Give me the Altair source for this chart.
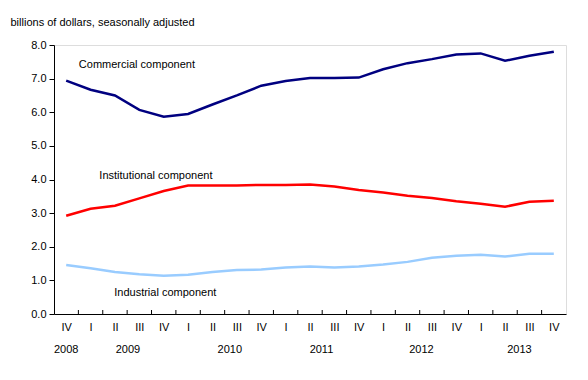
import json
import altair as alt
import pandas as pd

quarters = ["IV", "I", "II", "III", "IV", "I", "II", "III", "IV", "I", "II",
            "III", "IV", "I", "II", "III", "IV", "I", "II", "III", "IV"]
years = ["2008", "2009", "2010", "2011", "2012", "2013"]
year_pos = [0, 2.53, 6.71, 10.47, 14.57, 18.59]

commercial = [6.94, 6.67, 6.50, 6.07, 5.87, 5.95, 6.23, 6.50, 6.79, 6.93, 7.02,
              7.02, 7.03, 7.28, 7.46, 7.58, 7.72, 7.75, 7.53, 7.68, 7.80]
institutional = [2.92, 3.13, 3.22, 3.44, 3.66, 3.82, 3.82, 3.82, 3.84, 3.84, 3.85,
                 3.79, 3.69, 3.61, 3.52, 3.45, 3.35, 3.28, 3.19, 3.34, 3.37]
industrial = [1.46, 1.36, 1.25, 1.18, 1.14, 1.17, 1.25, 1.31, 1.32, 1.38, 1.41,
              1.38, 1.41, 1.47, 1.55, 1.67, 1.73, 1.76, 1.71, 1.79, 1.79]

series_names = ["Commercial component", "Institutional component", "Industrial component"]
colors = ["#000080", "#ff0000", "#99ccff"]
label_x = [0.52, 1.36, 1.97]
label_y = [7.41, 4.09, 0.62]

FONT = "Liberation Sans"

rows = []
for name, vals in zip(series_names, [commercial, institutional, industrial]):
    for i, v in enumerate(vals):
        rows.append({"idx": i, "value": v, "series": name})
df = pd.DataFrame(rows)

labels_df = pd.DataFrame({"idx": label_x, "value": label_y, "text": series_names})
years_df = pd.DataFrame({"pos": year_pos, "year": years})
bounds_df = pd.DataFrame({"b": [i + 0.5 for i in range(len(quarters) - 1)]})

x_scale = alt.Scale(domain=[-0.5, len(quarters) - 0.5], nice=False, zero=False)
y_scale = alt.Scale(domain=[0, 8], nice=False)

x_axis = alt.Axis(
    values=list(range(len(quarters))),
    labelExpr=f"{json.dumps(quarters)}[datum.value]",
    ticks=False, labelPadding=7, grid=False, title=None,
    domainColor="black", labelColor="black", labelFontSize=11, labelFont=FONT,
    labelFlush=False, labelOverlap=False, labelSeparation=0,
)
y_axis = alt.Axis(
    values=[0, 1, 2, 3, 4, 5, 6, 7, 8], format=".1f", grid=False,
    tickSize=5, tickColor="black", domainColor="black", labelPadding=3,
    labelColor="black", labelFontSize=11, labelFont=FONT, labelOverlap=False,
    labelFlush=False,
    title="billions of dollars, seasonally adjusted", titleAngle=0,
    titleX=-44, titleY=-23, titleAlign="left", titleBaseline="middle",
    titleFontWeight="normal", titleFontSize=11, titleFont=FONT, titleColor="black",
)

lines = alt.Chart(df).mark_line(strokeWidth=2.5).encode(
    x=alt.X("idx:Q", scale=x_scale, axis=x_axis),
    y=alt.Y("value:Q", scale=y_scale, axis=y_axis),
    color=alt.Color("series:N", scale=alt.Scale(domain=series_names, range=colors), legend=None),
    detail="series:N",
)

labels = alt.Chart(labels_df).mark_text(
    align="left", baseline="middle", fontSize=11, font=FONT, color="black"
).encode(
    x=alt.X("idx:Q", scale=x_scale, axis=x_axis),
    y=alt.Y("value:Q", scale=y_scale, axis=y_axis),
    text="text:N",
)

ticks = alt.Chart(bounds_df).mark_rule(color="black", strokeWidth=1).encode(
    x=alt.X("b:Q", scale=x_scale, axis=x_axis),
    y=alt.value(265),
    y2=alt.value(269),
)

year_text = alt.Chart(years_df).mark_text(
    align="center", baseline="middle", fontSize=11, font=FONT, color="black"
).encode(
    x=alt.X("pos:Q", scale=x_scale, axis=x_axis),
    y=alt.value(305),
    text="year:N",
)

chart = alt.layer(lines, labels, ticks, year_text).properties(
    width=512, height=269,
    autosize=alt.AutoSizeParams(type="none"),
    padding={"left": 46, "top": 37, "right": 14, "bottom": 60},
).configure_view(stroke="black", strokeWidth=1).configure_axis(
    labelOverlap=False
).configure(background="white")

chart.save("out.html", embed_options={"renderer": "svg", "actions": False})
